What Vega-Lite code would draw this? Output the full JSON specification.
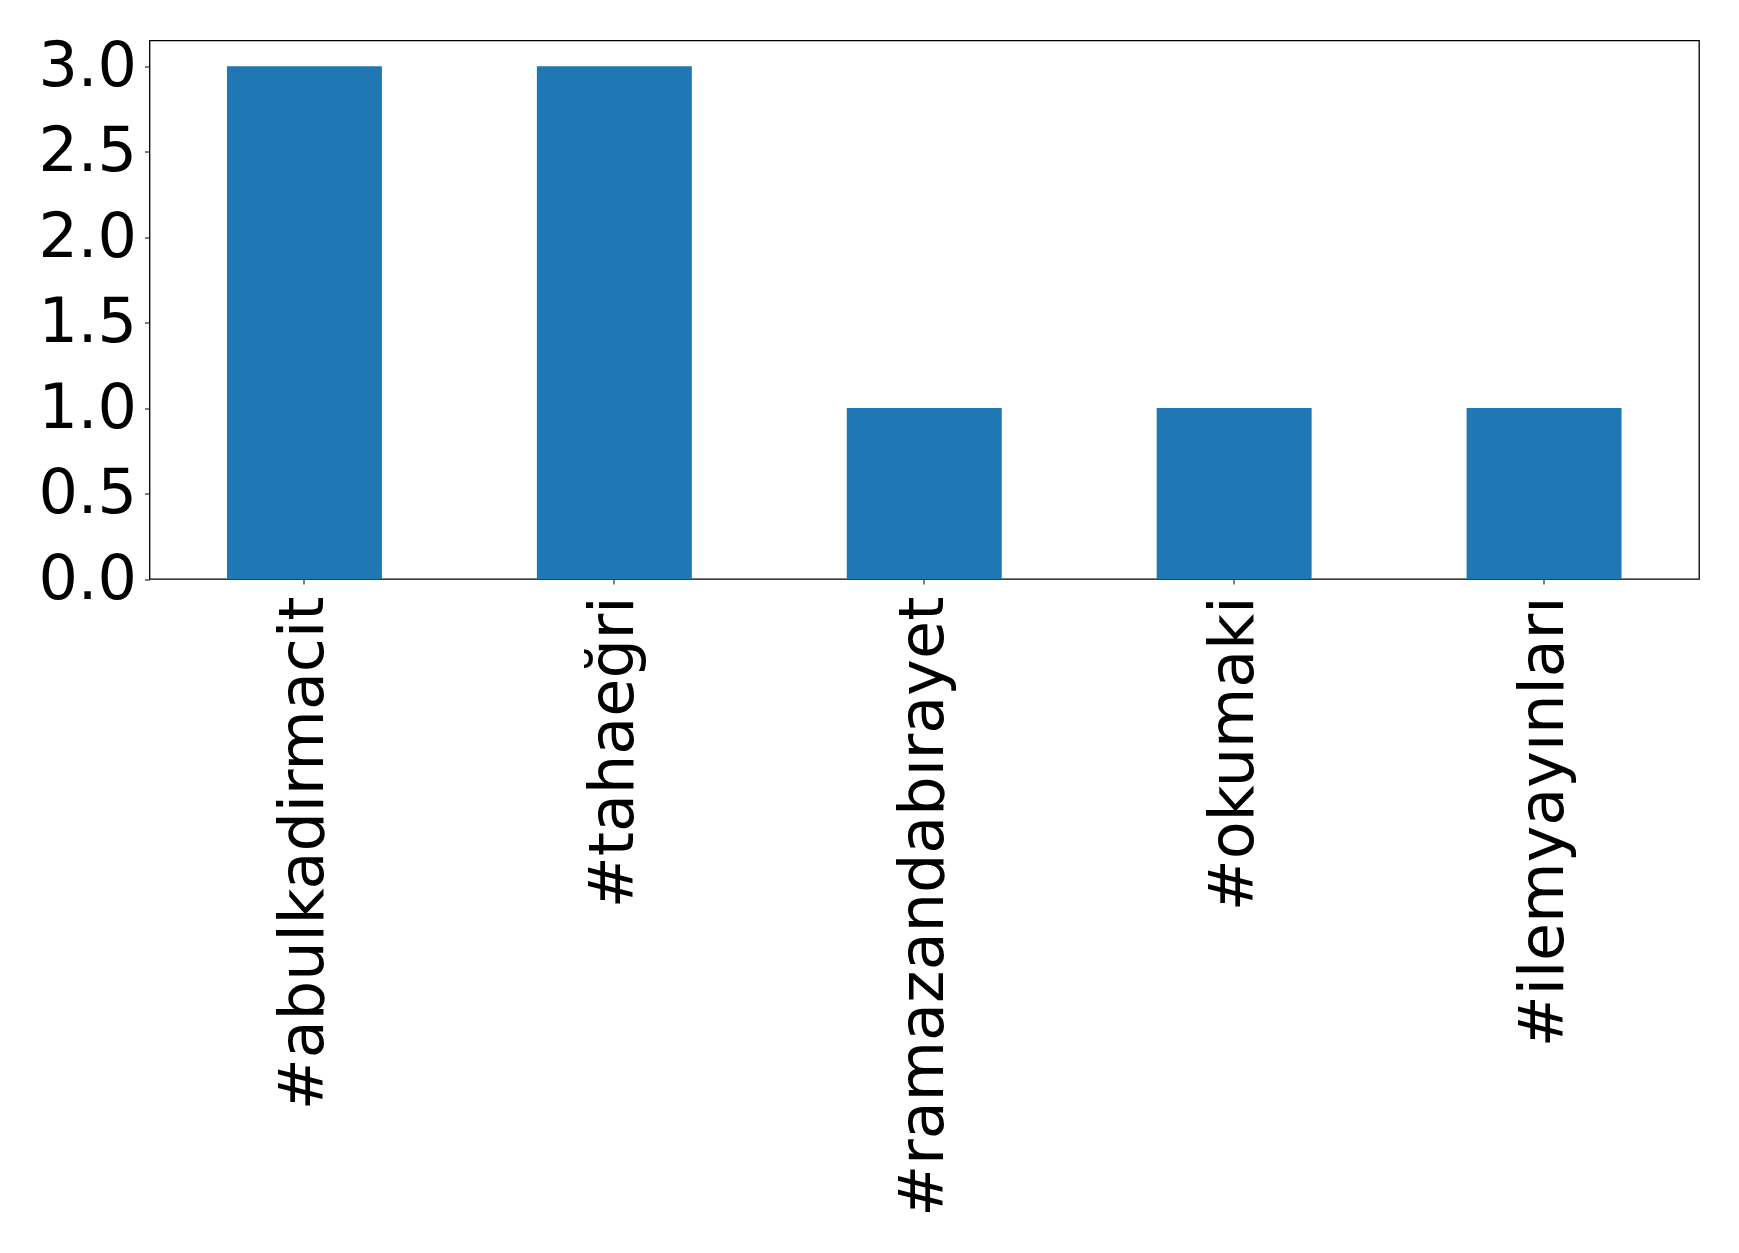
{
  "$schema": "https://vega.github.io/schema/vega-lite/v6.json",
  "autosize": {"type": "none"},
  "padding": {"left": 149.5, "top": 40.5, "right": 40, "bottom": 674},
  "width": 1549.5,
  "height": 538.5,
  "background": "white",
  "config": {
    "view": {"stroke": "black", "strokeWidth": 1.3},
    "axis": {
      "labelFont": "DejaVu Sans",
      "labelFontSize": 62,
      "labelColor": "black",
      "tickColor": "black",
      "tickSize": 5,
      "tickWidth": 1,
      "domain": false,
      "grid": false,
      "title": null
    }
  },
  "data": {
    "values": [
      {"hashtag": "#abulkadirmacit", "count": 3},
      {"hashtag": "#tahaeğri", "count": 3},
      {"hashtag": "#ramazandabırayet", "count": 1},
      {"hashtag": "#okumaki", "count": 1},
      {"hashtag": "#ilemyayınları", "count": 1}
    ]
  },
  "mark": {"type": "bar", "color": "#1f77b4"},
  "encoding": {
    "x": {
      "field": "hashtag",
      "type": "nominal",
      "sort": null,
      "scale": {"paddingInner": 0.5, "paddingOuter": 0.25},
      "axis": {"labelAngle": -90, "labelPadding": 12, "labelAlign": "right", "labelBaseline": "middle", "labelLimit": 0}
    },
    "y": {
      "field": "count",
      "type": "quantitative",
      "scale": {"domain": [0, 3.15], "nice": false},
      "axis": {"values": [0, 0.5, 1, 1.5, 2, 2.5, 3], "format": ".1f", "labelPadding": 8}
    }
  }
}
